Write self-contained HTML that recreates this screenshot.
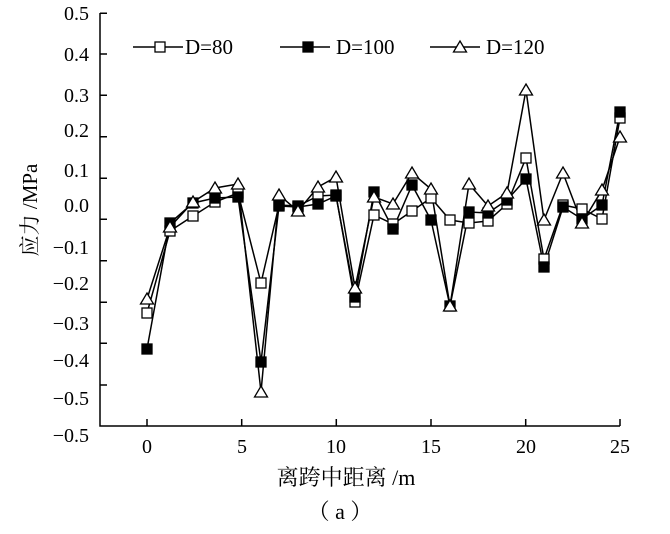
<!DOCTYPE html>
<html><head><meta charset="utf-8"><style>body{margin:0;background:#fff}svg text{font-family:"Liberation Serif","Noto Serif CJK SC",serif;fill:#000}</style></head><body>
<svg width="670" height="529" viewBox="0 0 670 529" xmlns="http://www.w3.org/2000/svg">
<g stroke="#000" stroke-width="1.5" fill="none">
<path d="M100,13 V426 H620"/>
<path d="M100,13.3h7M100,54h7M100,95.3h7M100,136.7h7M100,178.3h7M100,219.3h7M100,260.7h7M100,302.3h7M100,343.3h7M100,385h7"/>
<path d="M147,426v-7M241.7,426v-7M336.3,426v-7M431,426v-7M525.7,426v-7M620,426v-7"/>
</g>
<g font-size="20" text-anchor="end">
<text x="89" y="20">0.5</text><text x="89" y="61">0.4</text><text x="89" y="102">0.3</text><text x="89" y="137">0.2</text><text x="89" y="177">0.1</text><text x="89" y="212">0.0</text><text x="89" y="254">−0.1</text><text x="89" y="290">−0.2</text><text x="89" y="330">−0.3</text><text x="89" y="367">−0.4</text><text x="89" y="405">−0.5</text><text x="89" y="442">−0.5</text>
</g>
<g font-size="20" text-anchor="middle">
<text x="147" y="453">0</text><text x="242" y="453">5</text><text x="336" y="453">10</text><text x="431" y="453">15</text><text x="526" y="453">20</text><text x="620" y="453">25</text>
<text x="346" y="485" font-size="22">离跨中距离 /m</text>
<text x="340" y="519" font-size="22">（ a ）</text>
<text transform="translate(37,210) rotate(-90)" fill="#555" font-size="21">应力 /MPa</text>
</g>
<defs>
<rect id="s" x="-5" y="-5" width="10" height="10" fill="#fff" stroke="#000" stroke-width="1.3"/>
<rect id="f" x="-5" y="-5" width="10" height="10" fill="#000" stroke="#000" stroke-width="1.3"/>
<path id="t" d="M0,-6 L6.5,5 L-6.5,5 Z" fill="#fff" stroke="#000" stroke-width="1.3"/>
</defs>
<g fill="none" stroke="#000" stroke-width="1.5">
<polyline points="147,313 170,231 193,216 215,202 238,193 261,283 279,205 298,206 318,196 336,195 355,302 374,215 393,224 412,211 431,198 450,220 469,223 488,221 507,204 526,158 544,259 563,205 582,209 602,219 620,118"/>
<polyline points="147,349 170,223 193,203 215,198 238,197 261,362 279,206 298,207 318,204 336,196 355,297 374,192 393,229 412,185 431,220 450,306 469,212 488,213 507,200 526,179 544,267 563,207 582,219 602,205 620,112"/>
<polyline points="147,299 170,227 193,202 215,188 238,184 261,392 279,195 298,211 318,187 336,177 355,288 374,197 393,204 412,173 431,189 450,306 469,184 488,206 507,193 526,90 544,220 563,173 582,223 602,190 620,137"/>
<path d="M133,47h50M280,47h50M430,47h50"/>
</g>
<g>
<use href="#s" x="147" y="313"/><use href="#s" x="170" y="231"/><use href="#s" x="193" y="216"/><use href="#s" x="215" y="202"/><use href="#s" x="238" y="193"/><use href="#s" x="261" y="283"/><use href="#s" x="279" y="205"/><use href="#s" x="298" y="206"/><use href="#s" x="318" y="196"/><use href="#s" x="336" y="195"/><use href="#s" x="355" y="302"/><use href="#s" x="374" y="215"/><use href="#s" x="393" y="224"/><use href="#s" x="412" y="211"/><use href="#s" x="431" y="198"/><use href="#s" x="450" y="220"/><use href="#s" x="469" y="223"/><use href="#s" x="488" y="221"/><use href="#s" x="507" y="204"/><use href="#s" x="526" y="158"/><use href="#s" x="544" y="259"/><use href="#s" x="563" y="205"/><use href="#s" x="582" y="209"/><use href="#s" x="602" y="219"/><use href="#s" x="620" y="118"/>
<use href="#f" x="147" y="349"/><use href="#f" x="170" y="223"/><use href="#f" x="193" y="203"/><use href="#f" x="215" y="198"/><use href="#f" x="238" y="197"/><use href="#f" x="261" y="362"/><use href="#f" x="279" y="206"/><use href="#f" x="298" y="207"/><use href="#f" x="318" y="204"/><use href="#f" x="336" y="196"/><use href="#f" x="355" y="297"/><use href="#f" x="374" y="192"/><use href="#f" x="393" y="229"/><use href="#f" x="412" y="185"/><use href="#f" x="431" y="220"/><use href="#f" x="450" y="306"/><use href="#f" x="469" y="212"/><use href="#f" x="488" y="213"/><use href="#f" x="507" y="200"/><use href="#f" x="526" y="179"/><use href="#f" x="544" y="267"/><use href="#f" x="563" y="207"/><use href="#f" x="582" y="219"/><use href="#f" x="602" y="205"/><use href="#f" x="620" y="112"/>
<use href="#t" x="147" y="299"/><use href="#t" x="170" y="227"/><use href="#t" x="193" y="202"/><use href="#t" x="215" y="188"/><use href="#t" x="238" y="184"/><use href="#t" x="261" y="392"/><use href="#t" x="279" y="195"/><use href="#t" x="298" y="211"/><use href="#t" x="318" y="187"/><use href="#t" x="336" y="177"/><use href="#t" x="355" y="288"/><use href="#t" x="374" y="197"/><use href="#t" x="393" y="204"/><use href="#t" x="412" y="173"/><use href="#t" x="431" y="189"/><use href="#t" x="450" y="306"/><use href="#t" x="469" y="184"/><use href="#t" x="488" y="206"/><use href="#t" x="507" y="193"/><use href="#t" x="526" y="90"/><use href="#t" x="544" y="220"/><use href="#t" x="563" y="173"/><use href="#t" x="582" y="223"/><use href="#t" x="602" y="190"/><use href="#t" x="620" y="137"/>
<use href="#s" x="160" y="47"/><use href="#f" x="308" y="47"/><use href="#t" x="460" y="47"/>
</g>
<g font-size="21">
<text x="185" y="54">D=80</text><text x="336" y="54">D=100</text><text x="486" y="54">D=120</text>
</g>
</svg>
</body></html>
